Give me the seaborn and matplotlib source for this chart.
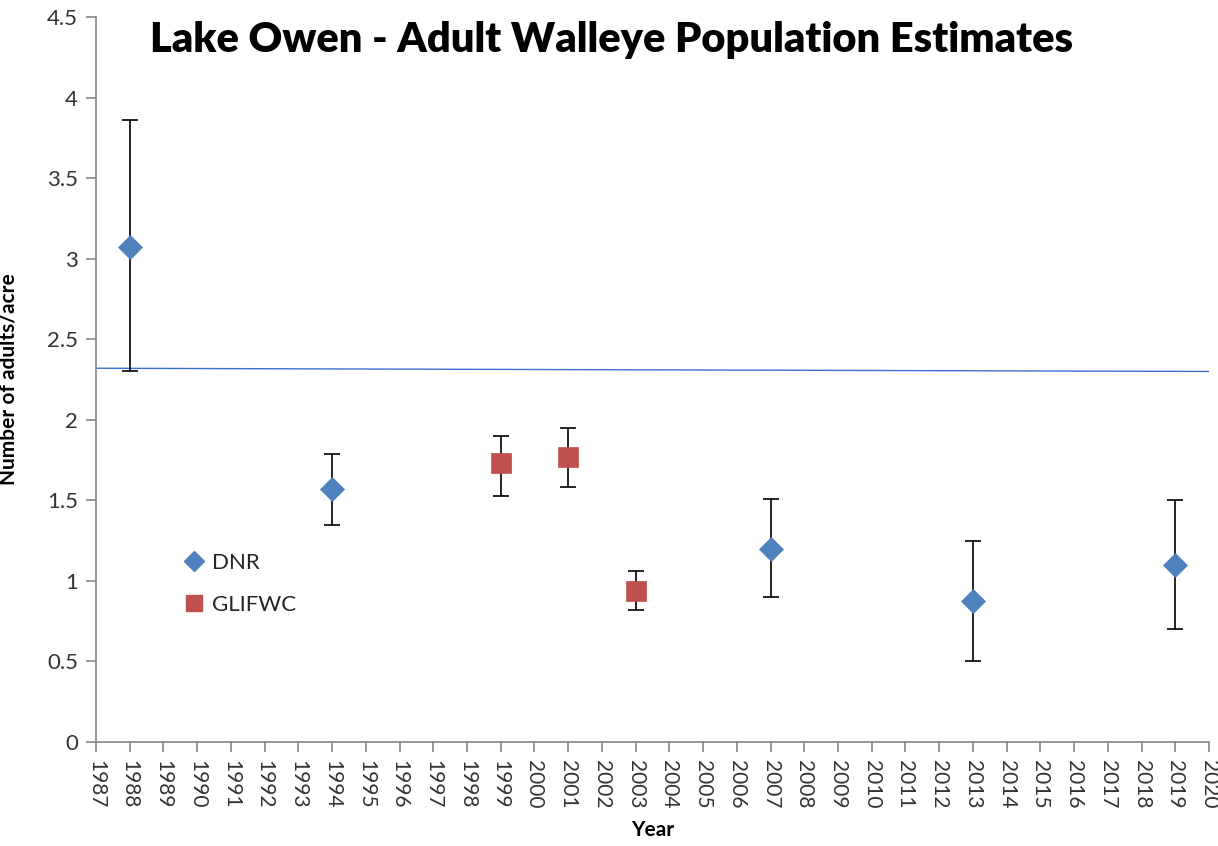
import matplotlib
matplotlib.use("Agg")
import matplotlib.pyplot as plt
import seaborn as sns
import pandas as pd
from matplotlib.lines import Line2D

# Survey estimates (adults per acre) with confidence bounds
dnr_years = [1988, 1994, 2007, 2013, 2019]
dnr_est = [3.07, 1.57, 1.20, 0.875, 1.10]
dnr_low = [2.30, 1.35, 0.90, 0.50, 0.70]
dnr_high = [3.86, 1.79, 1.51, 1.25, 1.50]

glifwc_years = [1999, 2001, 2003]
glifwc_est = [1.73, 1.77, 0.94]
glifwc_low = [1.53, 1.58, 0.82]
glifwc_high = [1.90, 1.95, 1.06]

# Long-term reference line
ref_years = [1987, 2020]
ref_values = [2.32, 2.30]

year_ticks = list(range(1987, 2021))

sns.set_theme(style="white")
plt.rcParams["font.family"] = ["Lato", "DejaVu Sans"]

BLUE = "#4F81BD"
RED = "#C0504D"
AXIS_GRAY = "#868686"

fig = plt.figure(figsize=(12.18, 8.46), dpi=100)
ax = fig.add_axes([0.0788, 0.1229, 0.9138, 0.857])

# Reference line
sns.lineplot(x=ref_years, y=ref_values, ax=ax, color="#3A6FD0", lw=1.0)

# Error bars
ax.errorbar(dnr_years, dnr_est,
            yerr=[[e - l for e, l in zip(dnr_est, dnr_low)],
                  [h - e for e, h in zip(dnr_est, dnr_high)]],
            fmt="none", ecolor="black", elinewidth=1.2, capsize=5.5, capthick=1.2, zorder=2)
ax.errorbar(glifwc_years, glifwc_est,
            yerr=[[e - l for e, l in zip(glifwc_est, glifwc_low)],
                  [h - e for e, h in zip(glifwc_est, glifwc_high)]],
            fmt="none", ecolor="black", elinewidth=1.2, capsize=5.5, capthick=1.2, zorder=2)

# Markers
df_dnr = pd.DataFrame({"Year": dnr_years, "Estimate": dnr_est})
df_gl = pd.DataFrame({"Year": glifwc_years, "Estimate": glifwc_est})
sns.scatterplot(data=df_dnr, x="Year", y="Estimate", ax=ax, marker="D", s=150,
                color=BLUE, edgecolor=BLUE, linewidth=0.5, zorder=3)
sns.scatterplot(data=df_gl, x="Year", y="Estimate", ax=ax, marker="s", s=220,
                color=RED, edgecolor=RED, linewidth=0.5, zorder=3)

ax.set_xlim(1987, 2020)
ax.set_ylim(0, 4.5)
ax.set_xticks(year_ticks)
ax.set_xticklabels([str(y) for y in year_ticks], rotation=270, fontsize=15, color="#333333")
ax.set_yticks([0, 0.5, 1, 1.5, 2, 2.5, 3, 3.5, 4, 4.5])
ax.set_yticklabels(["0", "0.5", "1", "1.5", "2", "2.5", "3", "3.5", "4", "4.5"],
                   fontsize=16, color="#333333")

for side in ["top", "right"]:
    ax.spines[side].set_visible(False)
for side in ["left", "bottom"]:
    ax.spines[side].set_color(AXIS_GRAY)
    ax.spines[side].set_linewidth(1.2)
ax.tick_params(axis="both", which="both", direction="out", length=7, width=1.2,
               color=AXIS_GRAY, pad=6, bottom=True, left=True)

ax.set_xlabel("Year", fontsize=15, fontweight="bold", color="black")
ax.xaxis.set_label_coords(0.5, -0.108)
ax.set_ylabel("Number of adults/acre", fontsize=15, fontweight="bold", color="black")
ax.yaxis.set_label_coords(-0.07, 0.5)

fig.text(0.5017, 0.953, "Lake Owen - Adult Walleye Population Estimates", fontsize=30,
         fontweight="heavy", color="black", ha="center", va="center")

handles = [
    Line2D([], [], marker="D", linestyle="none", color=BLUE, markersize=10),
    Line2D([], [], marker="s", linestyle="none", color=RED, markersize=12),
]
ax.legend(handles, ["DNR", "GLIFWC"], loc="center left", bbox_to_anchor=(0.06, 0.218),
          frameon=False, fontsize=16, handletextpad=0.3, labelspacing=1.0,
          handlelength=1.0)

fig.savefig("out.png", dpi=100, facecolor="white")
